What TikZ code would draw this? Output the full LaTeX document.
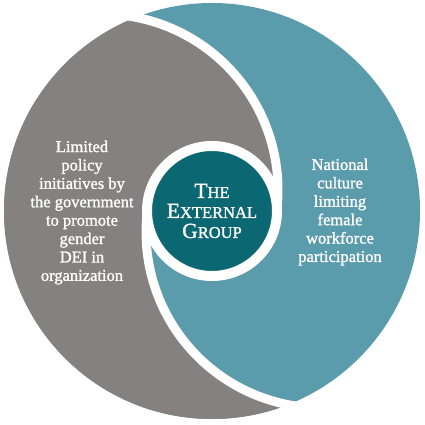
\documentclass[tikz,border=0pt]{standalone}
\usepackage{fontspec}
\setmainfont{Liberation Serif}
\newfontfamily\semib[FakeBold=1.3]{Liberation Serif}
\usetikzlibrary{positioning}
\definecolor{stone}{HTML}{85817F}
\definecolor{lagoon}{HTML}{5A9BAC}
\definecolor{deepteal}{HTML}{0B6873}
\newcommand{\capsc}[2]{{\fontsize{21.5}{20}\selectfont #1}{\fontsize{16.5}{20}\selectfont #2}}

\begin{document}
\begin{tikzpicture}[x=1pt,y=1pt,
  cut/.style={white,line width=9pt},
  blurb/.style={text=white,align=center,font=\semib\fontsize{16.5}{18.4}\selectfont}]
\useasboundingbox (0,0) rectangle (425,425);
\coordinate (o) at (212,214);
\coordinate (c1) at (102,235);
\coordinate (c2) at (322,193);
% two swirl halves
\fill[lagoon] (o) circle[radius=208];
\begin{scope}
\clip (o) circle[radius=208];
\fill[stone] (c1) ++(100:176) arc[start angle=100,end angle=-10.8,radius=176]
  arc[start angle=-10.8,end angle=169.2,radius=64]
  arc[start angle=169.2,end angle=280,radius=176]
  -- (300,-30) -- (-30,-30) -- (-30,460) -- (71.4,460) -- cycle;
\end{scope}
\draw[cut] (c1) ++(100:176) arc[start angle=100,end angle=-10.8,radius=176];
\draw[cut] (c2) ++(280:176) arc[start angle=280,end angle=169.2,radius=176];
% centre
\node[circle,fill=deepteal,draw=white,line width=10pt,minimum size=130pt,inner sep=0pt,
  text=white,align=center,font=\semib\fontsize{21.5}{20}\selectfont] (core) at (o)
  {\capsc{T}{HE}\\\capsc{E}{XTERNAL}\\\capsc{G}{ROUP}};
\node[blurb] (policy) at (82,212.5) {Limited\\policy\\initiatives by\\the government\\to promote\\gender\\DEI in\\organization};
\node[blurb] (culture) at (340,213) {National\\culture\\limiting\\female\\workforce\\participation};
\end{tikzpicture}
\end{document}
